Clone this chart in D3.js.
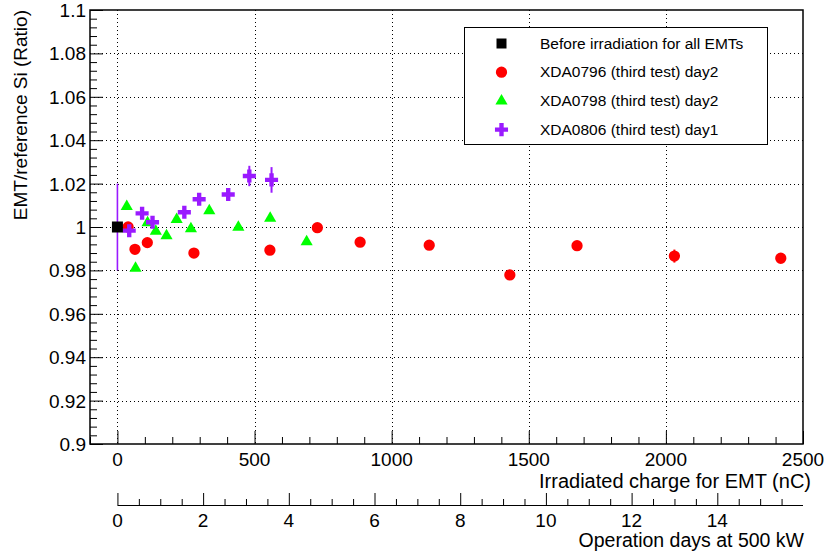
<!DOCTYPE html>
<html>
<head>
<meta charset="utf-8">
<script src="https://cdn.jsdelivr.net/npm/d3@7"></script>
<style>
  body { margin: 0; background: #fff; }
  text { font-family: "Liberation Sans", Arial, Helvetica, sans-serif; fill: #000; }
</style>
</head>
<body>
<svg id="chart"></svg>
<script>
// ---- data ----
var beforeX = [0];
var beforeY = [1.0];
var beforeErr = [0.02];

var xda0796X = [39, 64, 109, 279, 556, 729, 885, 1137, 1431, 1676, 2031, 2419];
var xda0796Y = [1.000, 0.9897, 0.9928, 0.988, 0.9893, 0.9997, 0.993, 0.9916, 0.9779, 0.9914, 0.9866, 0.9856];
var xda0796Err = [0, 0, 0, 0, 0, 0, 0, 0, 0, 0, 0.003, 0];

var xda0798X = [34, 66, 110, 140, 179, 216, 268, 335, 441, 557, 690];
var xda0798Y = [1.0094, 0.981, 1.002, 0.998, 0.996, 1.0035, 0.9992, 1.0075, 0.9999, 1.004, 0.9932];

var xda0806X = [43, 90, 128, 244, 298, 404, 481, 562];
var xda0806Y = [0.9983, 1.0063, 1.0022, 1.0068, 1.0128, 1.015, 1.0235, 1.0217];
var xda0806Err = [0, 0, 0, 0, 0, 0, 0.0047, 0.0059];

var legendLabels = ["Before irradiation for all EMTs", "XDA0796 (third test) day2",
                    "XDA0798 (third test) day2", "XDA0806 (third test) day1"];
var xTicks = [0, 500, 1000, 1500, 2000, 2500];
var yTicks = [0.9, 0.92, 0.94, 0.96, 0.98, 1, 1.02, 1.04, 1.06, 1.08, 1.1];
var dayTicks = [0, 2, 4, 6, 8, 10, 12, 14];

var width = 827, height = 552;
var frameL = 90, frameR = 803, frameT = 10, frameB = 444;

var svg = d3.select("#chart").attr("width", width).attr("height", height);

var x = d3.scaleLinear().domain([-100, 2500]).range([frameL, frameR]);
var y = d3.scaleLinear().domain([0.9, 1.1]).range([frameB, frameT]);
var days = d3.scaleLinear().domain([0, 16]).range([x(0), frameR]);

// grid (dotted)
var grid = svg.append("g");
grid.selectAll(".gx").data(xTicks.filter(function(d){ return d < 2500; }))
  .enter().append("line")
  .attr("x1", function(d){ return Math.round(x(d)) + 0.5; })
  .attr("x2", function(d){ return Math.round(x(d)) + 0.5; })
  .attr("y1", frameT).attr("y2", frameB)
  .attr("stroke", "#000").attr("stroke-width", 1).attr("stroke-dasharray", "1,3");
grid.selectAll(".gy").data(yTicks.filter(function(d){ return d > 0.9 && d < 1.1; }))
  .enter().append("line")
  .attr("x1", frameL).attr("x2", frameR)
  .attr("y1", function(d){ return Math.round(y(d)) + 0.5; })
  .attr("y2", function(d){ return Math.round(y(d)) + 0.5; })
  .attr("stroke", "#000").attr("stroke-width", 1).attr("stroke-dasharray", "1,3");

// frame
svg.append("rect")
  .attr("x", frameL).attr("y", frameT)
  .attr("width", frameR - frameL).attr("height", frameB - frameT)
  .attr("fill", "none").attr("stroke", "#000").attr("stroke-width", 1.5);

// x axis ticks (drawn inward, upward)
var xAxis = d3.axisTop(x).tickValues(d3.range(-100, 2501, 100)).tickSize(7).tickFormat("");
svg.append("g").attr("transform", "translate(0," + frameB + ")")
  .call(xAxis)
  .call(function(g){ g.select(".domain").remove(); })
  .selectAll("line")
  .attr("y2", function(d){ return d % 500 === 0 ? -13 : -7; })
  .attr("stroke-width", 1);

svg.append("g").selectAll("text").data(xTicks).enter().append("text")
  .attr("x", function(d){ return x(d); })
  .attr("y", 466)
  .attr("text-anchor", "middle")
  .style("font-size", "19px")
  .text(function(d){ return d; });

// y axis ticks (inward)
var yAxis = d3.axisRight(y).tickValues(d3.range(0, 51).map(function(i){ return 0.9 + i * 0.004; }))
  .tickSize(7).tickFormat("");
svg.append("g").attr("transform", "translate(" + frameL + ",0)")
  .call(yAxis)
  .call(function(g){ g.select(".domain").remove(); })
  .selectAll("line")
  .attr("x2", function(d, i){ return i % 5 === 0 ? 13 : 7; })
  .attr("stroke-width", 1);

svg.append("g").selectAll("text").data(yTicks).enter().append("text")
  .attr("x", 86)
  .attr("y", function(d){ return y(d) + 7; })
  .attr("text-anchor", "end")
  .style("font-size", "19px")
  .text(function(d){ return d3.format("~g")(d); });

// axis titles
svg.append("text")
  .attr("transform", "translate(27," + frameT + ") rotate(-90)")
  .attr("text-anchor", "end")
  .style("font-size", "19px")
  .text("EMT/reference Si (Ratio)");

svg.append("text")
  .attr("x", frameR + 8).attr("y", 488)
  .attr("text-anchor", "end")
  .style("font-size", "20px")
  .text("Irradiated charge for EMT (nC)");

// second axis: operation days
var dayAxisY = 505;
svg.append("line")
  .attr("x1", days(0)).attr("x2", frameR)
  .attr("y1", dayAxisY + 0.5).attr("y2", dayAxisY + 0.5)
  .attr("stroke", "#000").attr("stroke-width", 1);
var dAxis = d3.axisTop(days).tickValues(d3.range(0, 15.6, 0.5)).tickSize(6).tickFormat("");
svg.append("g").attr("transform", "translate(0," + dayAxisY + ")")
  .call(dAxis)
  .call(function(g){ g.select(".domain").remove(); })
  .selectAll("line")
  .attr("y2", function(d){ return d % 2 === 0 ? -12 : -6; })
  .attr("stroke-width", 1);
svg.append("g").selectAll("text").data(dayTicks).enter().append("text")
  .attr("x", function(d){ return days(d); })
  .attr("y", 527)
  .attr("text-anchor", "middle")
  .style("font-size", "19px")
  .text(function(d){ return d; });
svg.append("text")
  .attr("x", frameR + 1).attr("y", 547)
  .attr("text-anchor", "end")
  .style("font-size", "19.5px")
  .text("Operation days at 500 kW");

// ---- markers ----
var plot = svg.append("g");
var purple = "#9a1aff";

function errorBars(xs, ys, es, color, w) {
  plot.append("g").selectAll("line").data(xs.map(function(d, i){ return [d, ys[i], es[i]]; })
    .filter(function(d){ return d[2] > 0; }))
    .enter().append("line")
    .attr("x1", function(d){ return x(d[0]); })
    .attr("x2", function(d){ return x(d[0]); })
    .attr("y1", function(d){ return y(d[1] - d[2]); })
    .attr("y2", function(d){ return y(d[1] + d[2]); })
    .attr("stroke", color).attr("stroke-width", w);
}

var sym = {
  square: d3.symbol().type(d3.symbolSquare).size(121),
  circle: d3.symbol().type(d3.symbolCircle).size(100),
  triangle: d3.symbol().type(d3.symbolTriangle).size(64),
  cross: d3.symbol().type(d3.symbolCross).size(95)
};

function points(xs, ys, path, color) {
  plot.append("g").selectAll("path").data(xs.map(function(d, i){ return [d, ys[i]]; }))
    .enter().append("path")
    .attr("d", path)
    .attr("transform", function(d){ return "translate(" + x(d[0]) + "," + y(d[1]) + ")"; })
    .attr("fill", color);
}

errorBars(beforeX, beforeY, beforeErr, purple, 1.6);
errorBars(xda0796X, xda0796Y, xda0796Err, "#ff0000", 2);
errorBars(xda0806X, xda0806Y, xda0806Err, purple, 2);

points(xda0796X, xda0796Y, sym.circle(), "#ff0000");
points(xda0798X, xda0798Y, sym.triangle(), "#00ff00");
points(xda0806X, xda0806Y, sym.cross(), purple);
points(beforeX, beforeY, sym.square(), "#000");

// ---- legend ----
var legend = svg.append("g");
legend.append("rect")
  .attr("x", 464.5).attr("y", 27.5).attr("width", 303).attr("height", 117)
  .attr("fill", "#fff").attr("stroke", "#000").attr("stroke-width", 1);
var legendSyms = [d3.symbol().type(d3.symbolSquare).size(100)(), sym.circle(), sym.triangle(), sym.cross()];
var legendColors = ["#000", "#ff0000", "#00ff00", purple];
legendLabels.forEach(function(label, i){
  var ly = 43.5 + i * 28.7;
  legend.append("path").attr("d", legendSyms[i])
    .attr("transform", "translate(501.5," + ly + ")")
    .attr("fill", legendColors[i]);
  legend.append("text")
    .attr("x", 540).attr("y", ly + 5)
    .style("font-size", "15.5px")
    .text(label);
});
</script>
</body>
</html>
